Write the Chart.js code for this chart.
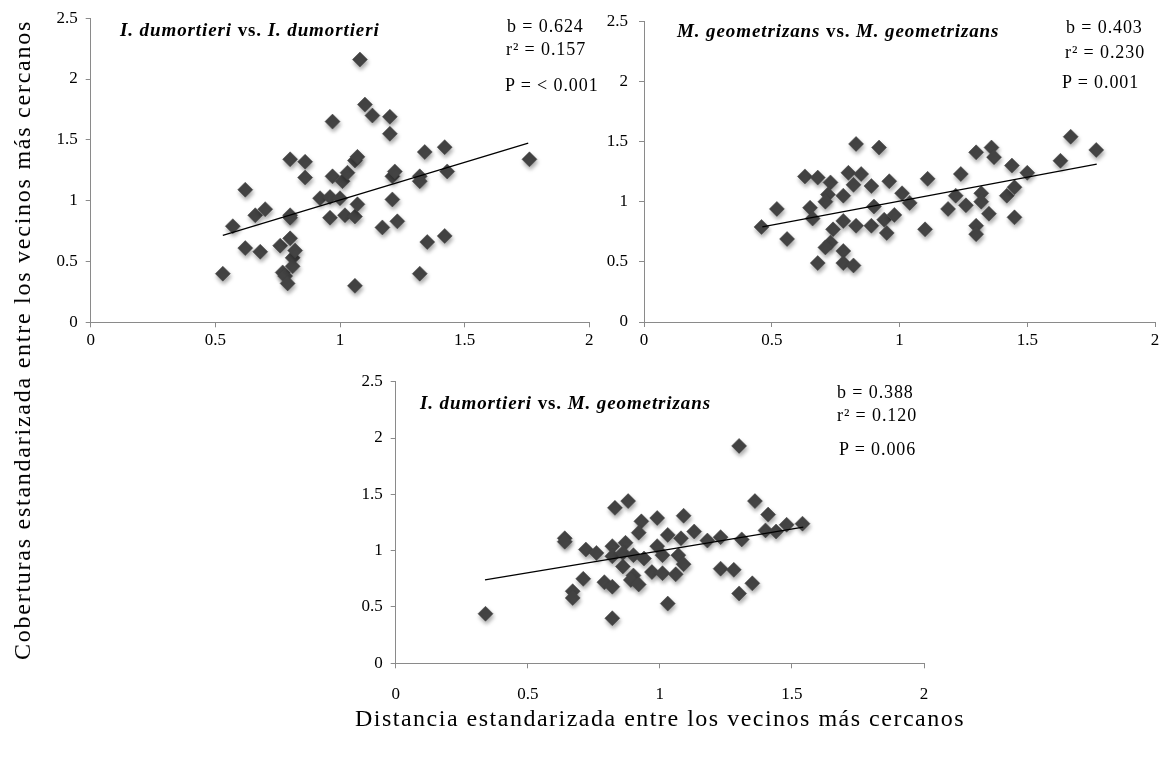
<!DOCTYPE html>
<html>
<head>
<meta charset="utf-8">
<title>Coberturas vs distancia entre vecinos</title>
<script src="https://cdn.jsdelivr.net/npm/chart.js@4.4.1/dist/chart.umd.min.js"></script>
<style>
  body { margin:0; background:#fff; width:1165px; height:758px; position:relative; overflow:hidden;
         font-family:"Liberation Serif","Times New Roman",serif; color:#000; }
  canvas { position:absolute; }
  .lbl { position:absolute; white-space:nowrap; line-height:1; }
  .title { font-weight:bold; font-size:19px; letter-spacing:0.9px; }
  .stat { font-size:18px; letter-spacing:0.9px; }
  .axis-title { font-size:24px; letter-spacing:1.5px; }
</style>
</head>
<body>
<canvas id="c1" width="610" height="355" style="left:0px;top:0px"></canvas>
<canvas id="c2" width="575" height="355" style="left:590px;top:0px"></canvas>
<canvas id="c3" width="620" height="350" style="left:330px;top:360px"></canvas>

<div class="lbl title" style="left:120px;top:20px"><i>I. dumortieri</i> vs. <i>I. dumortieri</i></div>
<div class="lbl stat" style="left:507px;top:17px">b = 0.624</div>
<div class="lbl stat" style="left:506px;top:40px">r² = 0.157</div>
<div class="lbl stat" style="left:505px;top:76px">P = &lt; 0.001</div>

<div class="lbl title" style="left:677px;top:21px"><i>M. geometrizans</i> vs. <i>M. geometrizans</i></div>
<div class="lbl stat" style="left:1066px;top:18px">b = 0.403</div>
<div class="lbl stat" style="left:1065px;top:43px">r² = 0.230</div>
<div class="lbl stat" style="left:1062px;top:73px">P = 0.001</div>

<div class="lbl title" style="left:420px;top:393px"><i>I. dumortieri</i> vs. <i>M. geometrizans</i></div>
<div class="lbl stat" style="left:837px;top:383px">b = 0.388</div>
<div class="lbl stat" style="left:837px;top:406px">r² = 0.120</div>
<div class="lbl stat" style="left:839px;top:440px">P = 0.006</div>

<div class="lbl axis-title" style="left:22px;top:340px;letter-spacing:1.75px;transform:translate(-50%,-50%) rotate(-90deg)">Coberturas  estandarizada entre los vecinos más cercanos</div>
<div class="lbl axis-title" style="left:660px;top:718px;transform:translate(-50%,-50%)">Distancia estandarizada entre los vecinos más cercanos</div>

<script>
// I. dumortieri vs. I. dumortieri
const idX = [0.53, 0.57, 0.62, 0.62, 0.66, 0.68, 0.70, 0.76, 0.77, 0.78, 0.79, 0.80, 0.80, 0.80, 0.80,
             0.81, 0.81, 0.82, 0.86, 0.86, 0.92, 0.96, 0.96, 0.97, 0.97, 1.00, 1.01, 1.02, 1.03, 1.06,
             1.06, 1.06, 1.07, 1.07, 1.08, 1.10, 1.13, 1.17, 1.20, 1.20, 1.21, 1.22, 1.21, 1.23, 1.32,
             1.32, 1.32, 1.34, 1.35, 1.42, 1.43, 1.42, 1.76];
const idY = [0.40, 0.79, 1.09, 0.61, 0.88, 0.58, 0.93, 0.63, 0.41, 0.38, 0.32, 0.69, 0.88, 0.86, 1.34,
             0.53, 0.46, 0.59, 1.32, 1.19, 1.02, 1.03, 0.86, 1.65, 1.20, 1.02, 1.16, 0.88, 1.23, 0.87,
             0.30, 1.33, 1.36, 0.97, 2.16, 1.79, 1.70, 0.78, 1.69, 1.55, 1.20, 1.24, 1.01, 0.83, 1.20,
             1.16, 0.40, 1.40, 0.66, 1.44, 1.24, 0.71, 1.34];
const idTrendX = [0.53, 1.755];
const idTrendY = [0.714, 1.472];

// M. geometrizans vs. M. geometrizans
const mgX = [0.46, 0.52, 0.56, 0.63, 0.68, 0.73, 0.65, 0.66, 0.72, 0.71, 0.83, 0.92, 0.80, 0.85, 0.82,
             0.78, 0.89, 0.96, 1.01, 1.04, 0.90, 0.78, 0.74, 0.83, 0.89, 0.94, 0.98, 0.95, 0.73, 0.71,
             0.68, 0.78, 0.78, 0.82, 1.11, 1.10, 1.24, 1.30, 1.36, 1.37, 1.44, 1.50, 1.63, 1.67, 1.77,
             1.22, 1.32, 1.32, 1.26, 1.19, 1.35, 1.42, 1.45, 1.45, 1.30, 1.30];
const mgY = [0.79, 0.94, 0.69, 1.21, 1.20, 1.16, 0.95, 0.86, 1.06, 1.00, 1.48, 1.45, 1.24, 1.23, 1.14,
             1.05, 1.13, 1.17, 1.07, 0.99, 0.96, 0.84, 0.77, 0.80, 0.80, 0.85, 0.89, 0.74, 0.66, 0.62,
             0.49, 0.59, 0.49, 0.47, 1.19, 0.77, 1.23, 1.41, 1.45, 1.37, 1.30, 1.24, 1.34, 1.54, 1.43,
             1.05, 1.07, 1.00, 0.97, 0.94, 0.90, 1.05, 1.12, 0.87, 0.80, 0.73];
const mgTrendX = [0.463, 1.772];
const mgTrendY = [0.79, 1.312];

// I. dumortieri vs. M. geometrizans
const imX = [0.34, 0.64, 0.64, 0.72, 0.76, 0.83, 0.88, 0.71, 0.67, 0.67, 0.79, 0.82, 0.82, 0.82, 0.82,
             0.87, 0.86, 0.86, 0.90, 0.90, 0.89, 0.92, 0.93, 0.92, 0.99, 0.99, 1.03, 0.97, 1.01, 1.03,
             1.30, 1.36, 1.41, 1.40, 1.44, 1.48, 1.54, 1.31, 1.23, 1.18, 1.09, 1.13, 1.08, 1.07, 1.09,
             1.06, 1.23, 1.28, 1.35, 1.30, 1.01, 0.94];
const imY = [0.44, 1.11, 1.08, 1.01, 0.98, 1.38, 1.44, 0.75, 0.64, 0.58, 0.72, 0.68, 0.40, 1.04, 0.95,
             1.07, 0.98, 0.86, 0.96, 0.78, 0.74, 0.70, 1.26, 1.16, 1.29, 1.04, 1.14, 0.81, 0.80, 0.53,
             1.93, 1.44, 1.32, 1.18, 1.17, 1.23, 1.24, 1.10, 1.12, 1.09, 1.31, 1.17, 1.11, 0.96, 0.88,
             0.79, 0.84, 0.83, 0.71, 0.62, 0.96, 0.93];
const imTrendX = [0.338, 1.543];
const imTrendY = [0.74, 1.208];

const xTicks = [0, 0.5, 1, 1.5, 2];
const yTicks = [0, 0.5, 1, 1.5, 2, 2.5];

const AXIS = '#8a8a8a';
const MARK = '#444444';

Chart.defaults.font.family = '"Liberation Serif", "Times New Roman", serif';
Chart.defaults.color = '#000';

function toPoints(xs, ys) {
  return xs.map((x, i) => ({ x: x, y: ys[i] }));
}

const shadowPlugin = {
  id: 'markShadow',
  beforeDatasetDraw(chart, args) {
    if (!chart.data.datasets[args.index].shadow) return;
    const ctx = chart.ctx;
    ctx.save();
    ctx.shadowColor = 'rgba(0,0,0,0.35)';
    ctx.shadowBlur = 4;
    ctx.shadowOffsetX = 1;
    ctx.shadowOffsetY = 3;
  },
  afterDatasetDraw(chart, args) {
    if (!chart.data.datasets[args.index].shadow) return;
    chart.ctx.restore();
  }
};

// box: y axis width, x axis height, top and right padding, tick paddings
function makeScatter(id, xs, ys, tx, ty, box) {
  return new Chart(document.getElementById(id), {
    type: 'scatter',
    data: {
      datasets: [
        {
          type: 'line',
          data: toPoints(tx, ty),
          borderColor: '#000',
          borderWidth: 1.3,
          pointRadius: 0,
          fill: false
        },
        {
          data: toPoints(xs, ys),
          shadow: true,
          pointStyle: 'rectRot',
          pointRadius: 7.5,
          pointBorderWidth: 0.5,
          backgroundColor: MARK,
          borderColor: MARK
        }
      ]
    },
    options: {
      responsive: false,
      animation: false,
      layout: { padding: { left: 0, top: box.top, right: box.right, bottom: 0 } },
      plugins: { legend: { display: false }, tooltip: { enabled: false } },
      scales: {
        x: {
          type: 'linear', min: 0, max: 2,
          afterFit: (s) => { s.height = box.xh; },
          afterBuildTicks: (s) => { s.ticks = xTicks.map(v => ({ value: v })); },
          ticks: { font: { size: 17 }, padding: box.xpad, maxRotation: 0, callback: (v) => String(v) },
          grid: { drawOnChartArea: false, drawTicks: true, tickLength: 5, color: AXIS },
          border: { color: AXIS, width: 1 }
        },
        y: {
          type: 'linear', min: 0, max: 2.5,
          afterFit: (s) => { s.width = box.yw; },
          afterBuildTicks: (s) => { s.ticks = yTicks.map(v => ({ value: v })); },
          ticks: { font: { size: 17 }, padding: box.ypad, callback: (v) => String(v) },
          grid: { drawOnChartArea: false, drawTicks: true, tickLength: 5, color: AXIS },
          border: { color: AXIS, width: 1 }
        }
      }
    },
    plugins: [shadowPlugin]
  });
}

makeScatter('c1', idX, idY, idTrendX, idTrendY, { yw: 90.7, xh: 32.7, top: 18, right: 20.7, xpad: 3, ypad: 8 });
makeScatter('c2', mgX, mgY, mgTrendX, mgTrendY, { yw: 54, xh: 33, top: 18, right: 10, xpad: 3, ypad: 11 });
makeScatter('c3', imX, imY, imTrendX, imTrendY, { yw: 65.7, xh: 46.7, top: 21.7, right: 26, xpad: 16, ypad: 8 });
</script>
</body>
</html>
